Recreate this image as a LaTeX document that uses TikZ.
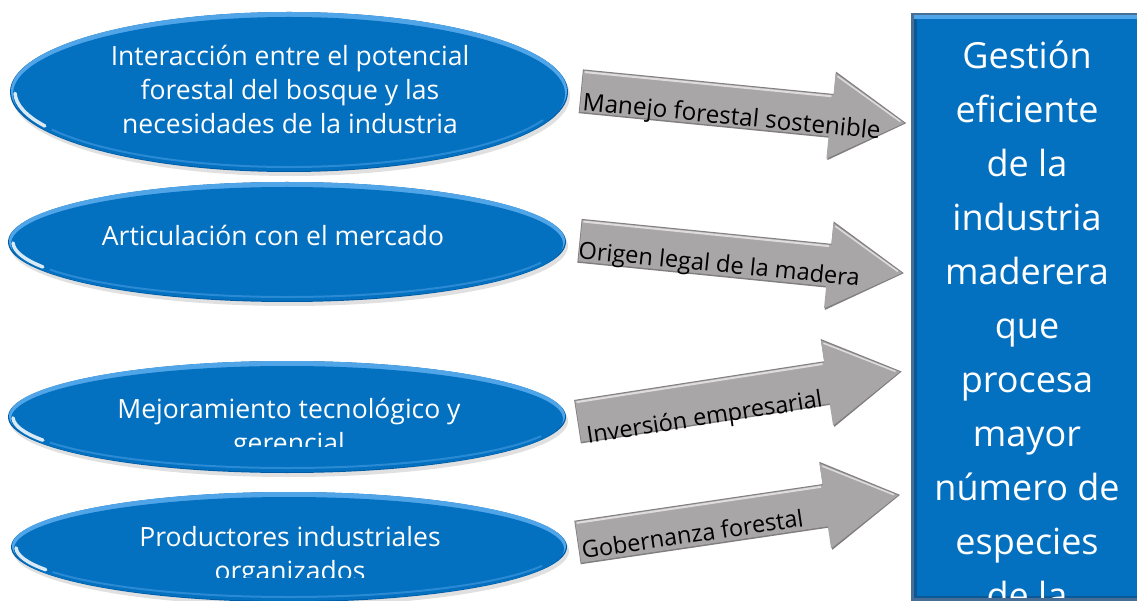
\documentclass[tikz,border=0pt]{standalone}
\usepackage{fontspec}
\setmainfont{Open Sans}
\usetikzlibrary{shapes.geometric}
\definecolor{pblue}{RGB}{4,112,192}
\definecolor{prim}{RGB}{80,165,232}
\definecolor{pedge}{RGB}{0,92,165}
\definecolor{pgray}{RGB}{168,166,166}
\definecolor{pgraylight}{RGB}{222,220,220}
\definecolor{pgraydark}{RGB}{128,126,126}
\definecolor{rborder}{RGB}{70,110,150}
\definecolor{rdark}{RGB}{10,88,150}
\tikzset{
  ellbody/.style={ellipse, fill=pblue, inner sep=0pt},
  elltext/.style={text=white, align=center, anchor=base, font=\fontsize{26.5}{34}\selectfont},
  arrtext/.style={text=black, anchor=base west, transform shape, inner sep=0pt},
  boxtext/.style={text=white, align=center, anchor=base, font=\fontsize{36}{54}\selectfont},
}
\newcommand{\myell}[5]{% name, cx, cy, rx, ry
  \fill[black, opacity=0.12] (#2+2,#3+4) ellipse [x radius=#4, y radius=#5];
  \fill[pedge] (#2,#3) ellipse [x radius=#4, y radius=#5];
  \fill[prim] (#2,#3-1) ellipse [x radius=#4-1, y radius=#5-1];
  \node[ellbody, minimum width=2*#4-6, minimum height=2*#5-6] (#1) at (#2,#3+2) {};
  \draw[prim, opacity=0.5, line width=2]
    (#2,#3) ++(150:#4-5 and #5-5) arc [start angle=150, end angle=22, x radius=#4-5, y radius=#5-5];
  \draw[white, opacity=0.85, line width=3.5, line cap=round]
    (#2,#3) ++(153:#4-5 and #5-5) arc [start angle=153, end angle=179, x radius=#4-5, y radius=#5-5];
}
\newcommand{\myarrow}[5]{% name, ox, oy, angle, length
  \begin{scope}[shift={(#2,#3)}, rotate=#4]
    \fill[pgraydark] (0,-22) -- (#5-75,-22) -- (#5-75,-44.5) -- (#5,0) -- (#5-75,44.5) -- (#5-75,22) -- (0,22) -- cycle;
    \fill[pgray] (0.8,-21) -- (#5-75,-21) -- (#5-75,-43) -- (#5-2,0) -- (#5-76,43) -- (#5-76,20.5) -- (0.8,20.5) -- cycle;
    \draw[pgraylight, line width=2] (2,-19.5) -- (#5-77,-19.5);
    \draw[pgraylight, line width=1.5] (#5-73,-40) -- (#5-6,-1);
    \coordinate (#1) at (0,0);
  \end{scope}
}
\begin{document}
\begin{tikzpicture}[x=1pt,y=-1pt]
\useasboundingbox (0,0) rectangle (1137,601);
\clip (0,0) rectangle (1137,601);

% ---------- ellipses ----------
\myell{e1}{289}{92}{279}{80}
\myell{e2}{287}{242}{279}{60}
\myell{e3}{287}{417}{279}{56}
\myell{e4}{289}{547}{278}{55}

\node[elltext] (t1) at (290,134) {Interacción entre el potencial\\forestal del bosque y las\\necesidades de la industria};
\node[elltext] (t2) at (273,246) {Articulación con el mercado};
\begin{scope}
  \clip (0,0) rectangle (1137,446);
  \node[elltext] (t3) at (289,452) {Mejoramiento tecnológico y\\gerencial};
\end{scope}
\begin{scope}
  \clip (0,0) rectangle (1137,577);
  \node[elltext] (t4) at (290,580) {Productores industriales\\organizados};
\end{scope}

% ---------- arrows ----------
\myarrow{a1}{580.8}{91.3}{-5.6}{327}
\begin{scope}[shift={(580.8,91.3)}, rotate=-5.6]
  \node[arrtext, font=\fontsize{24.3}{28}\selectfont] (l1) at (3,18.5) {Manejo forestal sostenible};
\end{scope}
\myarrow{a2}{579.5}{240.8}{-5.7}{326}
\begin{scope}[shift={(579.5,240.8)}, rotate=-5.7]
  \node[arrtext, font=\fontsize{23.6}{28}\selectfont] (l2) at (0,17.5) {Origen legal de la madera};
\end{scope}
\myarrow{a3}{577.5}{421.7}{8.8}{328}
\begin{scope}[shift={(577.5,421.7)}, rotate=8.8]
  \node[arrtext, font=\fontsize{23.5}{28}\selectfont] (l3) at (7,23) {Inversión empresarial};
\end{scope}
\myarrow{a4}{577.5}{542.5}{8.4}{326}
\begin{scope}[shift={(577.5,542.5)}, rotate=8.4]
  \node[arrtext, font=\fontsize{23.5}{28}\selectfont] (l4) at (3,17) {Gobernanza forestal};
\end{scope}

% ---------- result box ----------
\fill[rborder] (911,13) rectangle (1145,603);
\fill[rdark] (913.5,15.5) rectangle (1145,598);
\fill[prim] (913.5,15.5) rectangle (1145,19);
\node[fill=pblue, inner sep=0pt, minimum width=226, minimum height=577, anchor=north west] (box) at (917,19) {};
\begin{scope}
  \clip (917,19) rectangle (1145,597);
  \node[boxtext] (bt) at (1027,608) {Gestión\\eficiente\\de la\\industria\\maderera\\que\\procesa\\mayor\\número de\\especies\\de la};
\end{scope}
\end{tikzpicture}
\end{document}
